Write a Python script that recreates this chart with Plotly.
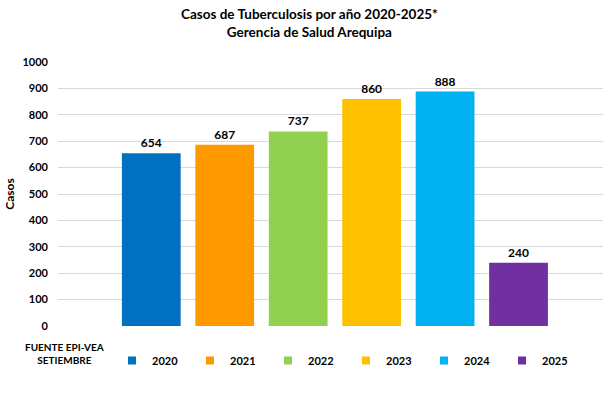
import plotly.graph_objects as go

years = ["2020", "2021", "2022", "2023", "2024", "2025"]
cases = [654, 687, 737, 860, 888, 240]
colors = ["#0070C0", "#FF9900", "#92D050", "#FFC000", "#00B0F0", "#7030A0"]
y_ticks = [0, 100, 200, 300, 400, 500, 600, 700, 800, 900, 1000]
title_lines = ["Casos de Tuberculosis por año 2020-2025*", "Gerencia de Salud Arequipa"]
source_label = "FUENTE EPI-VEA<br>SETIEMBRE"

FONT = "Lato"
W, H = 610, 398
ML, MR, MT, MB = 58, 7, 62, 72
PH = H - MT - MB
PW = W - ML - MR


def py(p):
    return (H - MB - p) / PH


def px(p):
    return (p - ML) / PW


fig = go.Figure()
for i, (yr, v, c) in enumerate(zip(years, cases, colors)):
    fig.add_trace(go.Bar(
        x=[i + 1], y=[v], name=yr, marker=dict(color=c, line=dict(width=0)),
        width=0.80, text=[str(v)], textposition="outside",
        textfont=dict(family=FONT, size=12, color="#000000", weight="bold"),
        cliponaxis=False, showlegend=False, hoverinfo="skip",
    ))
# legend entries (small square swatches)
for yr, c in zip(years, colors):
    fig.add_trace(go.Scatter(
        x=[None], y=[None], mode="markers", name=yr,
        marker=dict(symbol="square", size=8, color=c), showlegend=True,
    ))

fig.update_layout(
    width=W, height=H,
    margin=dict(l=ML, r=MR, t=MT, b=MB, autoexpand=False),
    paper_bgcolor="white", plot_bgcolor="white",
    font=dict(family=FONT, size=11, color="#000000"),
    barmode="overlay",
    xaxis=dict(range=[-0.27, 7.15], showticklabels=False, showgrid=False,
               zeroline=False, showline=False, ticks="", automargin=False),
    yaxis=dict(range=[0, 1000], tickvals=y_ticks,
               showgrid=True, gridcolor="#D9D9D9", gridwidth=1,
               zeroline=False, showline=False, ticks="", ticklen=0,
               automargin=False, ticklabelstandoff=9,
               tickfont=dict(family=FONT, size=11, color="#000000", weight="bold"),
               title=dict(text="Casos", standoff=5,
                          font=dict(family=FONT, size=12, color="#000000", weight="bold"))),
    legend=dict(orientation="h", x=px(112), xanchor="left", y=py(346), yanchor="top",
                entrywidth=33, entrywidthmode="pixels",
                font=dict(family=FONT, size=11, color="#000000", weight="bold"),
                itemwidth=30, tracegroupgap=0, traceorder="normal",
                bgcolor="rgba(0,0,0,0)"),
    showlegend=True,
)

fig.add_annotation(text="<br>".join(title_lines), xref="paper", yref="paper",
                   x=px(309), y=py(4), xanchor="center", yanchor="top",
                   showarrow=False, align="center",
                   font=dict(family=FONT, size=13.5, color="#000000", weight="bold"))

fig.add_annotation(text=source_label, xref="paper", yref="paper",
                   x=px(64), y=py(339), xanchor="center", yanchor="top",
                   showarrow=False, align="center",
                   font=dict(family=FONT, size=10, color="#000000", weight="bold"))

fig.write_html("out.html", config={"displayModeBar": False},
               post_script="document.body.style.margin='0px';")
